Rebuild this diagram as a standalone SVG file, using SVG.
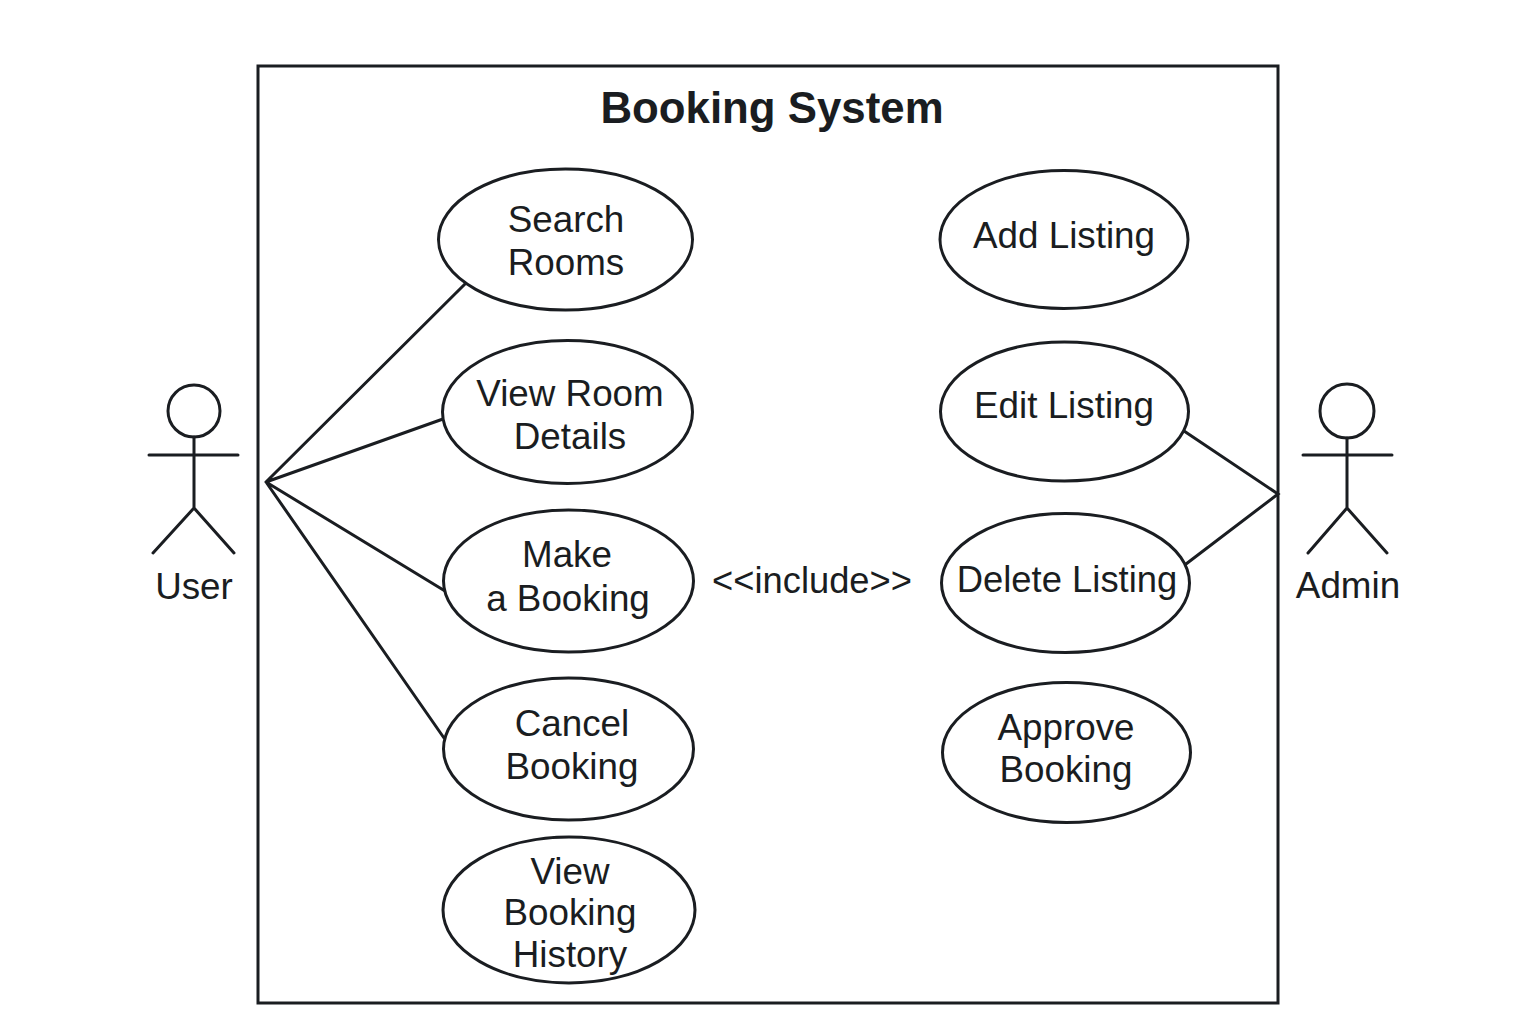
<svg xmlns="http://www.w3.org/2000/svg" width="1536" height="1024" viewBox="0 0 1536 1024">
<style>
.s{fill:none;stroke:#1a1d21;stroke-width:3;stroke-linecap:round}
.e{fill:#fff;stroke:#1a1d21;stroke-width:3}
text{font-family:"Liberation Sans",Arial,sans-serif;font-size:36.800px;fill:#1a1d21;text-anchor:middle}
</style>
<rect width="1536" height="1024" fill="#fff"/>
<g id="system"><rect x="258" y="66" width="1020" height="937" fill="none" stroke="#1a1d21" stroke-width="3"/>
<text x="772" y="123" style="font-size:43.800px;font-weight:700">Booking System</text></g>
<g id="connectors">
<path class="s" d="M266 482L467 282M266 482L443 419M266 482L445 591M266 482L444 738M1184 431L1278 494L1186 564"/>
</g>
<g id="actor-user"><circle class="s" cx="194" cy="411" r="26"/><path class="s" d="M194 437V508M149 455H238M194 508L153 553M194 508L234 553"/><text x="194" y="599">User</text></g>
<g id="actor-admin"><circle class="s" cx="1347" cy="411" r="27"/><path class="s" d="M1347 438V508M1303 455H1392M1347 508L1308 553M1347 508L1387 553"/><text x="1348" y="598">Admin</text></g>
<g id="uc-search"><ellipse class="e" cx="565.500" cy="239.500" rx="127" ry="70.500"/><text x="566" y="232">Search</text><text x="566" y="275">Rooms</text></g>
<g id="uc-view-room"><ellipse class="e" cx="567.500" cy="412" rx="125" ry="71.500"/><text x="570" y="406">View Room</text><text x="570" y="449">Details</text></g>
<g id="uc-make"><ellipse class="e" cx="568.500" cy="581" rx="125" ry="71"/><text x="567" y="567">Make</text><text x="568" y="611">a Booking</text></g>
<g id="uc-cancel"><ellipse class="e" cx="568.500" cy="749" rx="125" ry="71"/><text x="572" y="736">Cancel</text><text x="572" y="779">Booking</text></g>
<g id="uc-history"><ellipse class="e" cx="569" cy="910" rx="126" ry="73"/><text x="570" y="884">View</text><text x="570" y="925">Booking</text><text x="570" y="967">History</text></g>
<g id="uc-add"><ellipse class="e" cx="1064" cy="239.500" rx="124" ry="69"/><text x="1064" y="248">Add Listing</text></g>
<g id="uc-edit"><ellipse class="e" cx="1064.500" cy="411.500" rx="124" ry="69.500"/><text x="1064" y="418">Edit Listing</text></g>
<g id="uc-delete"><ellipse class="e" cx="1065.500" cy="583" rx="124" ry="69.500"/><text x="1067" y="592" style="font-size:36.400px">Delete Listing</text></g>
<g id="uc-approve"><ellipse class="e" cx="1066.500" cy="752.500" rx="124" ry="70"/><text x="1066" y="740">Approve</text><text x="1066" y="782">Booking</text></g>
<text id="include" x="812" y="593" style="font-size:36.300px">&lt;&lt;include&gt;&gt;</text>
</svg>
